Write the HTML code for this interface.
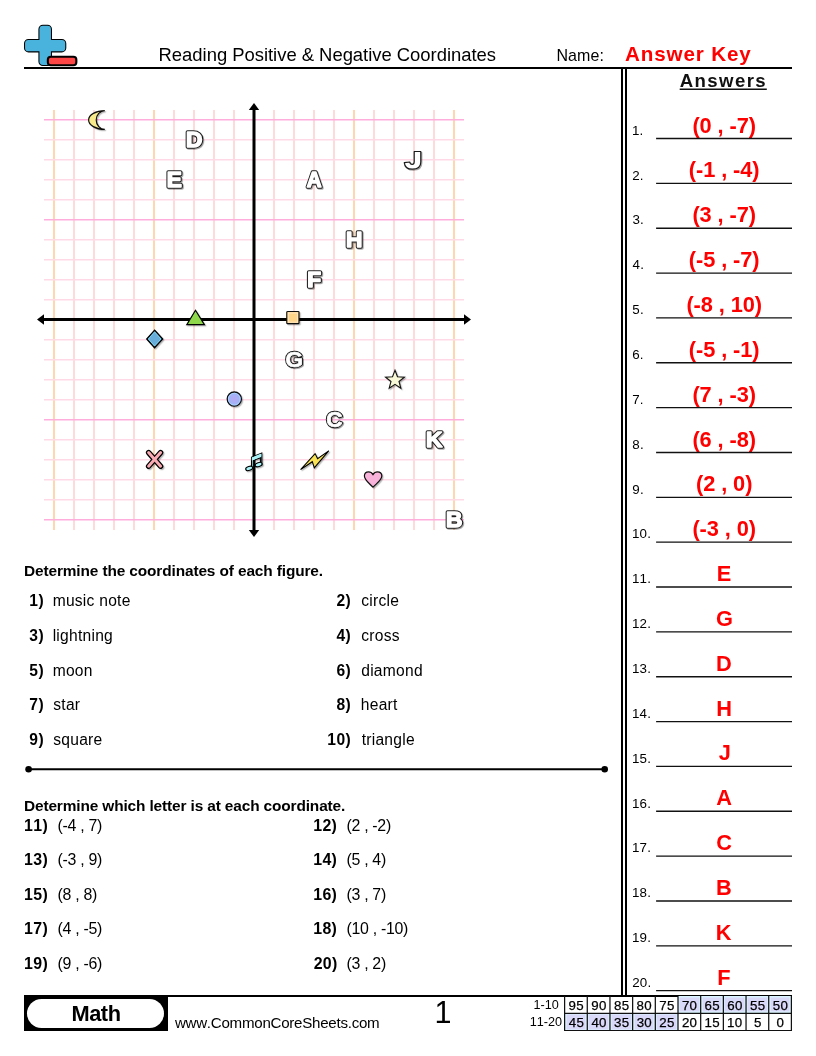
<!DOCTYPE html>
<html><head><meta charset="utf-8"><style>
html,body{margin:0;padding:0;background:#fff;}
body{width:816px;height:1056px;position:relative;overflow:hidden;font-family:"Liberation Sans", sans-serif;font-kerning:none;}
.abs{position:absolute;}
.t{position:absolute;white-space:pre;}
</style></head><body>
<div style="position:absolute;left:0;top:0;width:816px;height:1056px;will-change:transform;">
<svg class="abs" style="left:0;top:0" width="100" height="80" viewBox="0 0 100 80">
<g stroke="#000" stroke-width="2.1">
<rect x="39.45" y="25.85" width="11.5" height="39.1" rx="3.4" fill="#4ab3dd"/>
<rect x="25.05" y="40.05" width="40.2" height="11.3" rx="3.4" fill="#4ab3dd"/>
</g>
<rect x="39.45" y="25.85" width="11.5" height="39.1" rx="3.4" fill="#4ab3dd"/>
<rect x="25.05" y="40.05" width="40.2" height="11.3" rx="3.4" fill="#4ab3dd"/>
<rect x="47.85" y="56.75" width="28.5" height="8.5" rx="3" fill="#fe4646" stroke="#000" stroke-width="2.1"/>
</svg>
<div class="t" style="left:158.59px;top:46.07px;font-size:18.46px;line-height:18.46px;font-weight:normal;color:#000;letter-spacing:-0.02px;">Reading Positive &amp; Negative Coordinates</div>
<div class="t" style="left:556.39px;top:47.97px;font-size:15.99px;line-height:15.99px;font-weight:normal;color:#000;letter-spacing:0.10px;">Name:</div>
<div class="t" style="left:624.99px;top:44.23px;font-size:20.64px;line-height:20.64px;font-weight:bold;color:#fe0000;letter-spacing:0.85px;">Answer Key</div>
<div class="abs" style="left:24px;top:67px;width:768px;height:2px;background:#000;"></div>
<div class="abs" style="left:621px;top:69px;width:2px;height:926px;background:#000;"></div>
<div class="abs" style="left:624.8px;top:69px;width:1.9px;height:926px;background:#000;"></div>
<div class="t" style="left:679.64px;top:72.25px;font-size:18.60px;line-height:18.60px;font-weight:bold;color:#111;letter-spacing:1.43px;">Answers</div>
<svg class="abs" style="left:0;top:0" width="816" height="100"><line x1="679.7" y1="89.2" x2="766.8" y2="89.2" stroke="#111" stroke-width="1.4"/></svg>
<div class="t" style="left:631.88px;top:123.78px;font-size:13.37px;line-height:13.37px;font-weight:normal;color:#000;letter-spacing:0.20px;">1.</div>
<div class="t" style="left:692.42px;top:114.55px;font-size:21.80px;line-height:21.80px;font-weight:bold;color:#fe0000;letter-spacing:-0.09px;">(0 , -7)</div>
<div class="t" style="left:632.23px;top:168.63px;font-size:13.37px;line-height:13.37px;font-weight:normal;color:#000;letter-spacing:0.20px;">2.</div>
<div class="t" style="left:688.83px;top:159.40px;font-size:21.80px;line-height:21.80px;font-weight:bold;color:#fe0000;letter-spacing:-0.09px;">(-1 , -4)</div>
<div class="t" style="left:632.39px;top:213.48px;font-size:13.37px;line-height:13.37px;font-weight:normal;color:#000;letter-spacing:0.20px;">3.</div>
<div class="t" style="left:692.42px;top:204.25px;font-size:21.80px;line-height:21.80px;font-weight:bold;color:#fe0000;letter-spacing:-0.09px;">(3 , -7)</div>
<div class="t" style="left:632.59px;top:258.33px;font-size:13.37px;line-height:13.37px;font-weight:normal;color:#000;letter-spacing:0.20px;">4.</div>
<div class="t" style="left:688.83px;top:249.10px;font-size:21.80px;line-height:21.80px;font-weight:bold;color:#fe0000;letter-spacing:-0.09px;">(-5 , -7)</div>
<div class="t" style="left:632.36px;top:303.18px;font-size:13.37px;line-height:13.37px;font-weight:normal;color:#000;letter-spacing:0.20px;">5.</div>
<div class="t" style="left:686.40px;top:293.95px;font-size:21.80px;line-height:21.80px;font-weight:bold;color:#fe0000;letter-spacing:-0.09px;">(-8 , 10)</div>
<div class="t" style="left:632.22px;top:348.03px;font-size:13.37px;line-height:13.37px;font-weight:normal;color:#000;letter-spacing:0.20px;">6.</div>
<div class="t" style="left:688.83px;top:338.80px;font-size:21.80px;line-height:21.80px;font-weight:bold;color:#fe0000;letter-spacing:-0.09px;">(-5 , -1)</div>
<div class="t" style="left:632.21px;top:392.88px;font-size:13.37px;line-height:13.37px;font-weight:normal;color:#000;letter-spacing:0.20px;">7.</div>
<div class="t" style="left:692.42px;top:383.65px;font-size:21.80px;line-height:21.80px;font-weight:bold;color:#fe0000;letter-spacing:-0.09px;">(7 , -3)</div>
<div class="t" style="left:632.32px;top:437.73px;font-size:13.37px;line-height:13.37px;font-weight:normal;color:#000;letter-spacing:0.20px;">8.</div>
<div class="t" style="left:692.42px;top:428.50px;font-size:21.80px;line-height:21.80px;font-weight:bold;color:#fe0000;letter-spacing:-0.09px;">(6 , -8)</div>
<div class="t" style="left:632.27px;top:482.58px;font-size:13.37px;line-height:13.37px;font-weight:normal;color:#000;letter-spacing:0.20px;">9.</div>
<div class="t" style="left:696.00px;top:473.35px;font-size:21.80px;line-height:21.80px;font-weight:bold;color:#fe0000;letter-spacing:-0.09px;">(2 , 0)</div>
<div class="t" style="left:631.88px;top:527.43px;font-size:13.37px;line-height:13.37px;font-weight:normal;color:#000;letter-spacing:0.20px;">10.</div>
<div class="t" style="left:692.42px;top:518.20px;font-size:21.80px;line-height:21.80px;font-weight:bold;color:#fe0000;letter-spacing:-0.09px;">(-3 , 0)</div>
<div class="t" style="left:631.88px;top:572.28px;font-size:13.37px;line-height:13.37px;font-weight:normal;color:#000;letter-spacing:0.20px;">11.</div>
<div class="t" style="left:716.63px;top:563.05px;font-size:21.80px;line-height:21.80px;font-weight:bold;color:#fe0000;letter-spacing:-0.09px;">E</div>
<div class="t" style="left:631.88px;top:617.13px;font-size:13.37px;line-height:13.37px;font-weight:normal;color:#000;letter-spacing:0.20px;">12.</div>
<div class="t" style="left:715.95px;top:607.90px;font-size:21.80px;line-height:21.80px;font-weight:bold;color:#fe0000;letter-spacing:-0.09px;">G</div>
<div class="t" style="left:631.88px;top:661.98px;font-size:13.37px;line-height:13.37px;font-weight:normal;color:#000;letter-spacing:0.20px;">13.</div>
<div class="t" style="left:716.06px;top:652.75px;font-size:21.80px;line-height:21.80px;font-weight:bold;color:#fe0000;letter-spacing:-0.09px;">D</div>
<div class="t" style="left:631.88px;top:706.83px;font-size:13.37px;line-height:13.37px;font-weight:normal;color:#000;letter-spacing:0.20px;">14.</div>
<div class="t" style="left:716.33px;top:697.60px;font-size:21.80px;line-height:21.80px;font-weight:bold;color:#fe0000;letter-spacing:-0.09px;">H</div>
<div class="t" style="left:631.88px;top:751.68px;font-size:13.37px;line-height:13.37px;font-weight:normal;color:#000;letter-spacing:0.20px;">15.</div>
<div class="t" style="left:718.72px;top:742.45px;font-size:21.80px;line-height:21.80px;font-weight:bold;color:#fe0000;letter-spacing:-0.09px;">J</div>
<div class="t" style="left:631.88px;top:796.53px;font-size:13.37px;line-height:13.37px;font-weight:normal;color:#000;letter-spacing:0.20px;">16.</div>
<div class="t" style="left:716.34px;top:787.30px;font-size:21.80px;line-height:21.80px;font-weight:bold;color:#fe0000;letter-spacing:-0.09px;">A</div>
<div class="t" style="left:631.88px;top:841.38px;font-size:13.37px;line-height:13.37px;font-weight:normal;color:#000;letter-spacing:0.20px;">17.</div>
<div class="t" style="left:716.18px;top:832.15px;font-size:21.80px;line-height:21.80px;font-weight:bold;color:#fe0000;letter-spacing:-0.09px;">C</div>
<div class="t" style="left:631.88px;top:886.23px;font-size:13.37px;line-height:13.37px;font-weight:normal;color:#000;letter-spacing:0.20px;">18.</div>
<div class="t" style="left:716.09px;top:877.00px;font-size:21.80px;line-height:21.80px;font-weight:bold;color:#fe0000;letter-spacing:-0.09px;">B</div>
<div class="t" style="left:631.88px;top:931.08px;font-size:13.37px;line-height:13.37px;font-weight:normal;color:#000;letter-spacing:0.20px;">19.</div>
<div class="t" style="left:715.70px;top:921.85px;font-size:21.80px;line-height:21.80px;font-weight:bold;color:#fe0000;letter-spacing:-0.09px;">K</div>
<div class="t" style="left:632.23px;top:975.93px;font-size:13.37px;line-height:13.37px;font-weight:normal;color:#000;letter-spacing:0.20px;">20.</div>
<div class="t" style="left:717.21px;top:966.70px;font-size:21.80px;line-height:21.80px;font-weight:bold;color:#fe0000;letter-spacing:-0.09px;">F</div>
<svg class="abs" style="left:0;top:0" width="816" height="1000"><line x1="656.1" y1="138.50" x2="792" y2="138.50" stroke="#111" stroke-width="1.35"/><line x1="656.1" y1="183.35" x2="792" y2="183.35" stroke="#111" stroke-width="1.35"/><line x1="656.1" y1="228.20" x2="792" y2="228.20" stroke="#111" stroke-width="1.35"/><line x1="656.1" y1="273.05" x2="792" y2="273.05" stroke="#111" stroke-width="1.35"/><line x1="656.1" y1="317.90" x2="792" y2="317.90" stroke="#111" stroke-width="1.35"/><line x1="656.1" y1="362.75" x2="792" y2="362.75" stroke="#111" stroke-width="1.35"/><line x1="656.1" y1="407.60" x2="792" y2="407.60" stroke="#111" stroke-width="1.35"/><line x1="656.1" y1="452.45" x2="792" y2="452.45" stroke="#111" stroke-width="1.35"/><line x1="656.1" y1="497.30" x2="792" y2="497.30" stroke="#111" stroke-width="1.35"/><line x1="656.1" y1="542.15" x2="792" y2="542.15" stroke="#111" stroke-width="1.35"/><line x1="656.1" y1="587.00" x2="792" y2="587.00" stroke="#111" stroke-width="1.35"/><line x1="656.1" y1="631.85" x2="792" y2="631.85" stroke="#111" stroke-width="1.35"/><line x1="656.1" y1="676.70" x2="792" y2="676.70" stroke="#111" stroke-width="1.35"/><line x1="656.1" y1="721.55" x2="792" y2="721.55" stroke="#111" stroke-width="1.35"/><line x1="656.1" y1="766.40" x2="792" y2="766.40" stroke="#111" stroke-width="1.35"/><line x1="656.1" y1="811.25" x2="792" y2="811.25" stroke="#111" stroke-width="1.35"/><line x1="656.1" y1="856.10" x2="792" y2="856.10" stroke="#111" stroke-width="1.35"/><line x1="656.1" y1="900.95" x2="792" y2="900.95" stroke="#111" stroke-width="1.35"/><line x1="656.1" y1="945.80" x2="792" y2="945.80" stroke="#111" stroke-width="1.35"/><line x1="656.1" y1="990.65" x2="792" y2="990.65" stroke="#111" stroke-width="1.35"/></svg>
<svg class="abs" style="left:0;top:0" width="816" height="560" viewBox="0 0 816 560">
<defs><filter id="sh" x="-30%" y="-30%" width="160%" height="160%"><feDropShadow dx="1" dy="1" stdDeviation="0.5" flood-color="#000" flood-opacity="0.35"/></filter><radialGradient id="cg"><stop offset="0" stop-color="#b6a8f2"/><stop offset="0.55" stop-color="#a8b0f6"/><stop offset="1" stop-color="#98b4fa"/></radialGradient><filter id="sh2" x="-30%" y="-30%" width="160%" height="160%"><feDropShadow dx="1.2" dy="1.2" stdDeviation="0.5" flood-color="#000" flood-opacity="0.28"/></filter></defs>
<line x1="54" y1="110" x2="54" y2="530" stroke="#ffd6b0" stroke-width="2"/>
<line x1="74" y1="110" x2="74" y2="530" stroke="#ffdada" stroke-width="2"/>
<line x1="94" y1="110" x2="94" y2="530" stroke="#ffdada" stroke-width="2"/>
<line x1="114" y1="110" x2="114" y2="530" stroke="#ffdada" stroke-width="2"/>
<line x1="134" y1="110" x2="134" y2="530" stroke="#ffdada" stroke-width="2"/>
<line x1="154" y1="110" x2="154" y2="530" stroke="#ffd6b0" stroke-width="2"/>
<line x1="174" y1="110" x2="174" y2="530" stroke="#ffdada" stroke-width="2"/>
<line x1="194" y1="110" x2="194" y2="530" stroke="#ffdada" stroke-width="2"/>
<line x1="214" y1="110" x2="214" y2="530" stroke="#ffdada" stroke-width="2"/>
<line x1="234" y1="110" x2="234" y2="530" stroke="#ffdada" stroke-width="2"/>
<line x1="254" y1="110" x2="254" y2="530" stroke="#ffd6b0" stroke-width="2"/>
<line x1="274" y1="110" x2="274" y2="530" stroke="#ffdada" stroke-width="2"/>
<line x1="294" y1="110" x2="294" y2="530" stroke="#ffdada" stroke-width="2"/>
<line x1="314" y1="110" x2="314" y2="530" stroke="#ffdada" stroke-width="2"/>
<line x1="334" y1="110" x2="334" y2="530" stroke="#ffdada" stroke-width="2"/>
<line x1="354" y1="110" x2="354" y2="530" stroke="#ffd6b0" stroke-width="2"/>
<line x1="374" y1="110" x2="374" y2="530" stroke="#ffdada" stroke-width="2"/>
<line x1="394" y1="110" x2="394" y2="530" stroke="#ffdada" stroke-width="2"/>
<line x1="414" y1="110" x2="414" y2="530" stroke="#ffdada" stroke-width="2"/>
<line x1="434" y1="110" x2="434" y2="530" stroke="#ffdada" stroke-width="2"/>
<line x1="454" y1="110" x2="454" y2="530" stroke="#ffd6b0" stroke-width="2"/>
<line x1="44" y1="119.8" x2="464" y2="119.8" stroke="#ffaedb" stroke-width="1.6"/>
<line x1="44" y1="139.8" x2="464" y2="139.8" stroke="#ffd9e6" stroke-width="1.6"/>
<line x1="44" y1="159.8" x2="464" y2="159.8" stroke="#ffd9e6" stroke-width="1.6"/>
<line x1="44" y1="179.8" x2="464" y2="179.8" stroke="#ffd9e6" stroke-width="1.6"/>
<line x1="44" y1="199.8" x2="464" y2="199.8" stroke="#ffd9e6" stroke-width="1.6"/>
<line x1="44" y1="219.8" x2="464" y2="219.8" stroke="#ffaedb" stroke-width="1.6"/>
<line x1="44" y1="239.8" x2="464" y2="239.8" stroke="#ffd9e6" stroke-width="1.6"/>
<line x1="44" y1="259.8" x2="464" y2="259.8" stroke="#ffd9e6" stroke-width="1.6"/>
<line x1="44" y1="279.8" x2="464" y2="279.8" stroke="#ffd9e6" stroke-width="1.6"/>
<line x1="44" y1="299.8" x2="464" y2="299.8" stroke="#ffd9e6" stroke-width="1.6"/>
<line x1="44" y1="319.8" x2="464" y2="319.8" stroke="#ffaedb" stroke-width="1.6"/>
<line x1="44" y1="339.8" x2="464" y2="339.8" stroke="#ffd9e6" stroke-width="1.6"/>
<line x1="44" y1="359.8" x2="464" y2="359.8" stroke="#ffd9e6" stroke-width="1.6"/>
<line x1="44" y1="379.8" x2="464" y2="379.8" stroke="#ffd9e6" stroke-width="1.6"/>
<line x1="44" y1="399.8" x2="464" y2="399.8" stroke="#ffd9e6" stroke-width="1.6"/>
<line x1="44" y1="419.8" x2="464" y2="419.8" stroke="#ffaedb" stroke-width="1.6"/>
<line x1="44" y1="439.8" x2="464" y2="439.8" stroke="#ffd9e6" stroke-width="1.6"/>
<line x1="44" y1="459.8" x2="464" y2="459.8" stroke="#ffd9e6" stroke-width="1.6"/>
<line x1="44" y1="479.8" x2="464" y2="479.8" stroke="#ffd9e6" stroke-width="1.6"/>
<line x1="44" y1="499.8" x2="464" y2="499.8" stroke="#ffd9e6" stroke-width="1.6"/>
<line x1="44" y1="519.8" x2="464" y2="519.8" stroke="#ffaedb" stroke-width="1.6"/>
<line x1="254" y1="109" x2="254" y2="531" stroke="#000" stroke-width="3"/>
<line x1="43" y1="319.6" x2="465" y2="319.6" stroke="#000" stroke-width="3"/>
<polygon points="254,103 248.8,110 259.2,110" fill="#000"/>
<polygon points="254,537 248.8,530 259.2,530" fill="#000"/>
<polygon points="37,319.5 44,314.3 44,324.7" fill="#000"/>
<polygon points="471,319.5 464,314.3 464,324.7" fill="#000"/>
<g filter="url(#sh2)">
<path d="M104.8 110.6 A16.2 9.4 0 0 0 104.8 129.4 A8.6 9.4 0 0 1 104.8 110.6 Z" fill="#f9ea8c" stroke="#111" stroke-width="1.2" stroke-linejoin="miter"/>
<polygon points="154.6,330.2 162.6,339 154.6,347.6 146.8,339" fill="#68acd9" stroke="#000" stroke-width="1.4"/>
<polygon points="154.6,331.8 161,339 154.6,346 148.4,339" fill="none" stroke="#86e2f4" stroke-width="0.7"/>
<circle cx="234.3" cy="399.1" r="7.1" fill="url(#cg)" stroke="#111" stroke-width="1.3"/>
<circle cx="234.3" cy="399.1" r="5.9" fill="none" stroke="#acdcff" stroke-width="0.8"/>
<polygon points="195.5,310.3 186.8,324.6 204.4,324.6" fill="#8fd84c" stroke="#000" stroke-width="1.2" stroke-linejoin="miter"/>
<rect x="286.8" y="311.5" width="12.2" height="12.2" rx="0.8" fill="#ffd58a" stroke="#111" stroke-width="1.2"/>
<rect x="288.3" y="313" width="9.2" height="9.2" fill="none" stroke="#ffe6c4" stroke-width="0.9"/>
<g stroke-linecap="round"><line x1="148.6" y1="452.6" x2="160.6" y2="466.2" stroke="#000" stroke-width="5.4"/><line x1="160.6" y1="452.6" x2="148.6" y2="466.2" stroke="#000" stroke-width="5.4"/><line x1="148.6" y1="452.6" x2="160.6" y2="466.2" stroke="#f9aab2" stroke-width="3"/><line x1="160.6" y1="452.6" x2="148.6" y2="466.2" stroke="#f9aab2" stroke-width="3"/></g>
<polygon points="395.00,370.30 397.47,376.80 404.42,377.14 398.99,381.50 400.82,388.21 395.00,384.40 389.18,388.21 391.01,381.50 385.58,377.14 392.53,376.80" fill="#f9f8d6" stroke="#111" stroke-width="1.1" stroke-linejoin="miter"/>
<path d="M373 487.2 C369 483 364.4 480 364.4 476 C364.4 473.3 366.4 471.9 368.6 471.9 C370.8 471.9 372.2 473.2 373 474.6 C373.8 473.2 375.2 471.9 377.4 471.9 C379.6 471.9 381.8 473.3 381.8 476 C381.8 480 377 483 373 487.2 Z" fill="#f9b2da" stroke="#111" stroke-width="1.2"/>
<polygon points="300.6,469.6 315.1,453.6 317.6,458.7 328.7,450.9 314.3,467.9 312.3,461.7" fill="#f9e254" stroke="#000" stroke-width="1.1" stroke-linejoin="miter"/>
<g fill="#a9f3f8" stroke="#000" stroke-width="1.1"><path d="M251.5 457.2 L261.8 453 L261.8 465 L260.4 465 L260.4 457.8 L253.3 460.6 L253.3 468 L251.5 468 Z"/><ellipse cx="249.2" cy="468.4" rx="3.6" ry="2" transform="rotate(-18 249.2 468.4)"/><ellipse cx="258.6" cy="464.6" rx="3.6" ry="2" transform="rotate(-18 258.6 464.6)"/><path d="M251.8 457.6 L261.4 453.6 L261.4 456.6 L251.8 460.4 Z" stroke="none"/></g>
</g>
<path d="M414.2 151.5 L420.8 151.5 L420.8 162 C420.8 167 417.5 169.2 412.3 169.2 C407.5 169.2 404.6 166.5 404.3 162.6 L409.8 162 C410 163.6 410.9 164.4 412.2 164.4 C413.6 164.4 414.2 163.5 414.2 162 Z" fill="#fff" stroke="#1a1a1a" stroke-width="1.2" stroke-linejoin="round" filter="url(#sh)"/>
<g transform="translate(174.3 0) scale(1.07 1) translate(-174.3 0)"><text x="174.3" y="186.89" text-anchor="middle" font-family="Liberation Sans" font-weight="bold" font-size="21.2" fill="#1a1a1a" stroke="#1a1a1a" stroke-width="3.5" stroke-linejoin="round" filter="url(#sh)">E</text><text x="174.3" y="186.89" text-anchor="middle" font-family="Liberation Sans" font-weight="bold" font-size="21.2" fill="#fff" stroke="#fff" stroke-width="1.5" stroke-linejoin="round" opacity="0.999">E</text></g>
<g transform="translate(294.3 0) scale(1.0 1) translate(-294.3 0)"><text x="294.3" y="367.37" text-anchor="middle" font-family="Liberation Sans" font-weight="bold" font-size="22.6" fill="#1a1a1a" stroke="#1a1a1a" stroke-width="2.7" stroke-linejoin="round" filter="url(#sh)">G</text><text x="294.3" y="367.37" text-anchor="middle" font-family="Liberation Sans" font-weight="bold" font-size="22.6" fill="#fff" stroke="#fff" stroke-width="0.7" stroke-linejoin="round" opacity="0.999">G</text></g>
<g transform="translate(194.3 0) scale(1.07 1) translate(-194.3 0)"><text x="194.3" y="146.89" text-anchor="middle" font-family="Liberation Sans" font-weight="bold" font-size="21.2" fill="#1a1a1a" stroke="#1a1a1a" stroke-width="3.5" stroke-linejoin="round" filter="url(#sh)">D</text><text x="194.3" y="146.89" text-anchor="middle" font-family="Liberation Sans" font-weight="bold" font-size="21.2" fill="#fff" stroke="#fff" stroke-width="1.5" stroke-linejoin="round" opacity="0.999">D</text></g>
<g transform="translate(354.3 0) scale(1.07 1) translate(-354.3 0)"><text x="354.3" y="246.89" text-anchor="middle" font-family="Liberation Sans" font-weight="bold" font-size="21.2" fill="#1a1a1a" stroke="#1a1a1a" stroke-width="3.5" stroke-linejoin="round" filter="url(#sh)">H</text><text x="354.3" y="246.89" text-anchor="middle" font-family="Liberation Sans" font-weight="bold" font-size="21.2" fill="#fff" stroke="#fff" stroke-width="1.5" stroke-linejoin="round" opacity="0.999">H</text></g>
<g transform="translate(314.3 0) scale(0.97 1) translate(-314.3 0)"><text x="314.3" y="186.89" text-anchor="middle" font-family="Liberation Sans" font-weight="bold" font-size="21.2" fill="#1a1a1a" stroke="#1a1a1a" stroke-width="3.5" stroke-linejoin="round" filter="url(#sh)">A</text><text x="314.3" y="186.89" text-anchor="middle" font-family="Liberation Sans" font-weight="bold" font-size="21.2" fill="#fff" stroke="#fff" stroke-width="1.5" stroke-linejoin="round" opacity="0.999">A</text></g>
<g transform="translate(334.3 0) scale(1.0 1) translate(-334.3 0)"><text x="334.3" y="427.37" text-anchor="middle" font-family="Liberation Sans" font-weight="bold" font-size="22.6" fill="#1a1a1a" stroke="#1a1a1a" stroke-width="2.7" stroke-linejoin="round" filter="url(#sh)">C</text><text x="334.3" y="427.37" text-anchor="middle" font-family="Liberation Sans" font-weight="bold" font-size="22.6" fill="#fff" stroke="#fff" stroke-width="0.7" stroke-linejoin="round" opacity="0.999">C</text></g>
<g transform="translate(454.3 0) scale(1.07 1) translate(-454.3 0)"><text x="454.3" y="526.89" text-anchor="middle" font-family="Liberation Sans" font-weight="bold" font-size="21.2" fill="#1a1a1a" stroke="#1a1a1a" stroke-width="3.5" stroke-linejoin="round" filter="url(#sh)">B</text><text x="454.3" y="526.89" text-anchor="middle" font-family="Liberation Sans" font-weight="bold" font-size="21.2" fill="#fff" stroke="#fff" stroke-width="1.5" stroke-linejoin="round" opacity="0.999">B</text></g>
<g transform="translate(434.3 0) scale(1.07 1) translate(-434.3 0)"><text x="434.3" y="446.89" text-anchor="middle" font-family="Liberation Sans" font-weight="bold" font-size="21.2" fill="#1a1a1a" stroke="#1a1a1a" stroke-width="3.5" stroke-linejoin="round" filter="url(#sh)">K</text><text x="434.3" y="446.89" text-anchor="middle" font-family="Liberation Sans" font-weight="bold" font-size="21.2" fill="#fff" stroke="#fff" stroke-width="1.5" stroke-linejoin="round" opacity="0.999">K</text></g>
<g transform="translate(314.3 0) scale(1.07 1) translate(-314.3 0)"><text x="314.3" y="286.89" text-anchor="middle" font-family="Liberation Sans" font-weight="bold" font-size="21.2" fill="#1a1a1a" stroke="#1a1a1a" stroke-width="3.5" stroke-linejoin="round" filter="url(#sh)">F</text><text x="314.3" y="286.89" text-anchor="middle" font-family="Liberation Sans" font-weight="bold" font-size="21.2" fill="#fff" stroke="#fff" stroke-width="1.5" stroke-linejoin="round" opacity="0.999">F</text></g>
</svg>
<div class="t" style="left:23.97px;top:562.76px;font-size:15.41px;line-height:15.41px;font-weight:bold;color:#000;letter-spacing:-0.12px;">Determine the coordinates of each figure.</div>
<div class="t" style="left:29.21px;top:592.99px;font-size:15.60px;line-height:15.60px;font-weight:bold;color:#000;letter-spacing:0.50px;">1)</div>
<div class="t" style="left:52.66px;top:592.99px;font-size:15.60px;line-height:15.60px;font-weight:normal;color:#000;letter-spacing:0.25px;">music note</div>
<div class="t" style="left:29.21px;top:627.79px;font-size:15.60px;line-height:15.60px;font-weight:bold;color:#000;letter-spacing:0.50px;">3)</div>
<div class="t" style="left:52.65px;top:627.79px;font-size:15.60px;line-height:15.60px;font-weight:normal;color:#000;letter-spacing:0.25px;">lightning</div>
<div class="t" style="left:29.21px;top:662.59px;font-size:15.60px;line-height:15.60px;font-weight:bold;color:#000;letter-spacing:0.50px;">5)</div>
<div class="t" style="left:52.66px;top:662.59px;font-size:15.60px;line-height:15.60px;font-weight:normal;color:#000;letter-spacing:0.25px;">moon</div>
<div class="t" style="left:29.21px;top:697.39px;font-size:15.60px;line-height:15.60px;font-weight:bold;color:#000;letter-spacing:0.50px;">7)</div>
<div class="t" style="left:53.27px;top:697.39px;font-size:15.60px;line-height:15.60px;font-weight:normal;color:#000;letter-spacing:0.25px;">star</div>
<div class="t" style="left:29.21px;top:732.19px;font-size:15.60px;line-height:15.60px;font-weight:bold;color:#000;letter-spacing:0.50px;">9)</div>
<div class="t" style="left:53.27px;top:732.19px;font-size:15.60px;line-height:15.60px;font-weight:normal;color:#000;letter-spacing:0.25px;">square</div>
<div class="t" style="left:336.41px;top:592.99px;font-size:15.60px;line-height:15.60px;font-weight:bold;color:#000;letter-spacing:0.50px;">2)</div>
<div class="t" style="left:361.24px;top:592.99px;font-size:15.60px;line-height:15.60px;font-weight:normal;color:#000;letter-spacing:0.25px;">circle</div>
<div class="t" style="left:336.41px;top:627.79px;font-size:15.60px;line-height:15.60px;font-weight:bold;color:#000;letter-spacing:0.50px;">4)</div>
<div class="t" style="left:361.24px;top:627.79px;font-size:15.60px;line-height:15.60px;font-weight:normal;color:#000;letter-spacing:0.25px;">cross</div>
<div class="t" style="left:336.41px;top:662.59px;font-size:15.60px;line-height:15.60px;font-weight:bold;color:#000;letter-spacing:0.50px;">6)</div>
<div class="t" style="left:361.24px;top:662.59px;font-size:15.60px;line-height:15.60px;font-weight:normal;color:#000;letter-spacing:0.25px;">diamond</div>
<div class="t" style="left:336.41px;top:697.39px;font-size:15.60px;line-height:15.60px;font-weight:bold;color:#000;letter-spacing:0.50px;">8)</div>
<div class="t" style="left:360.82px;top:697.39px;font-size:15.60px;line-height:15.60px;font-weight:normal;color:#000;letter-spacing:0.25px;">heart</div>
<div class="t" style="left:327.23px;top:732.19px;font-size:15.60px;line-height:15.60px;font-weight:bold;color:#000;letter-spacing:0.50px;">10)</div>
<div class="t" style="left:361.66px;top:732.19px;font-size:15.60px;line-height:15.60px;font-weight:normal;color:#000;letter-spacing:0.25px;">triangle</div>
<svg class="abs" style="left:0;top:760px" width="640" height="20"><line x1="28.6" y1="9.3" x2="604.7" y2="9.3" stroke="#000" stroke-width="2"/><circle cx="28.6" cy="9.3" r="3.3"/><circle cx="604.7" cy="9.3" r="3.3"/></svg>
<div class="t" style="left:23.97px;top:797.56px;font-size:15.41px;line-height:15.41px;font-weight:bold;color:#000;letter-spacing:-0.13px;">Determine which letter is at each coordinate.</div>
<div class="t" style="left:24.00px;top:817.54px;font-size:15.90px;line-height:15.90px;font-weight:bold;color:#000;letter-spacing:0.35px;">11)</div>
<div class="t" style="left:57.61px;top:817.54px;font-size:15.90px;line-height:15.90px;font-weight:normal;color:#000;letter-spacing:-0.30px;">(-4 , 7)</div>
<div class="t" style="left:24.00px;top:852.14px;font-size:15.90px;line-height:15.90px;font-weight:bold;color:#000;letter-spacing:0.35px;">13)</div>
<div class="t" style="left:57.61px;top:852.14px;font-size:15.90px;line-height:15.90px;font-weight:normal;color:#000;letter-spacing:-0.30px;">(-3 , 9)</div>
<div class="t" style="left:24.00px;top:886.74px;font-size:15.90px;line-height:15.90px;font-weight:bold;color:#000;letter-spacing:0.35px;">15)</div>
<div class="t" style="left:57.61px;top:886.74px;font-size:15.90px;line-height:15.90px;font-weight:normal;color:#000;letter-spacing:-0.30px;">(8 , 8)</div>
<div class="t" style="left:24.00px;top:921.34px;font-size:15.90px;line-height:15.90px;font-weight:bold;color:#000;letter-spacing:0.35px;">17)</div>
<div class="t" style="left:57.61px;top:921.34px;font-size:15.90px;line-height:15.90px;font-weight:normal;color:#000;letter-spacing:-0.30px;">(4 , -5)</div>
<div class="t" style="left:24.00px;top:955.94px;font-size:15.90px;line-height:15.90px;font-weight:bold;color:#000;letter-spacing:0.35px;">19)</div>
<div class="t" style="left:57.61px;top:955.94px;font-size:15.90px;line-height:15.90px;font-weight:normal;color:#000;letter-spacing:-0.30px;">(9 , -6)</div>
<div class="t" style="left:313.20px;top:817.54px;font-size:15.90px;line-height:15.90px;font-weight:bold;color:#000;letter-spacing:0.35px;">12)</div>
<div class="t" style="left:346.51px;top:817.54px;font-size:15.90px;line-height:15.90px;font-weight:normal;color:#000;letter-spacing:-0.30px;">(2 , -2)</div>
<div class="t" style="left:313.20px;top:852.14px;font-size:15.90px;line-height:15.90px;font-weight:bold;color:#000;letter-spacing:0.35px;">14)</div>
<div class="t" style="left:346.51px;top:852.14px;font-size:15.90px;line-height:15.90px;font-weight:normal;color:#000;letter-spacing:-0.30px;">(5 , 4)</div>
<div class="t" style="left:313.20px;top:886.74px;font-size:15.90px;line-height:15.90px;font-weight:bold;color:#000;letter-spacing:0.35px;">16)</div>
<div class="t" style="left:346.51px;top:886.74px;font-size:15.90px;line-height:15.90px;font-weight:normal;color:#000;letter-spacing:-0.30px;">(3 , 7)</div>
<div class="t" style="left:313.20px;top:921.34px;font-size:15.90px;line-height:15.90px;font-weight:bold;color:#000;letter-spacing:0.35px;">18)</div>
<div class="t" style="left:346.51px;top:921.34px;font-size:15.90px;line-height:15.90px;font-weight:normal;color:#000;letter-spacing:-0.30px;">(10 , -10)</div>
<div class="t" style="left:313.65px;top:955.94px;font-size:15.90px;line-height:15.90px;font-weight:bold;color:#000;letter-spacing:0.35px;">20)</div>
<div class="t" style="left:346.51px;top:955.94px;font-size:15.90px;line-height:15.90px;font-weight:normal;color:#000;letter-spacing:-0.30px;">(3 , 2)</div>
<div class="abs" style="left:24px;top:995px;width:768px;height:2px;background:#000;"></div>
<div class="abs" style="left:24.3px;top:995px;width:144px;height:36px;background:#000;"></div>
<div class="abs" style="left:27.3px;top:999px;width:136.7px;height:29.4px;background:#fff;border-radius:15px;"></div>
<div class="t" style="left:71.44px;top:1002.54px;font-size:21.80px;line-height:21.80px;font-weight:bold;color:#000;letter-spacing:-0.45px;">Math</div>
<div class="t" style="left:174.92px;top:1015.00px;font-size:15.12px;line-height:15.12px;font-weight:normal;color:#000;letter-spacing:-0.26px;">www.CommonCoreSheets.com</div>
<div class="t" style="left:434.47px;top:997.06px;font-size:30.52px;line-height:30.52px;font-weight:normal;color:#000;letter-spacing:0.00px;">1</div>
<div class="t" style="left:533.43px;top:998.69px;font-size:12.65px;line-height:12.65px;font-weight:normal;color:#000;letter-spacing:0.05px;">1-10</div>
<div class="t" style="left:529.84px;top:1015.69px;font-size:12.65px;line-height:12.65px;font-weight:normal;color:#000;letter-spacing:-0.05px;">11-20</div>
<div class="t" style="left:568.56px;top:998.64px;font-size:13.30px;line-height:13.30px;font-weight:normal;color:#000;letter-spacing:0.30px;-webkit-text-stroke:0.25px #000;">95</div>
<div class="abs" style="left:564.6px;top:1013.25px;width:22.68px;height:17.25px;background:#d9d8f8;box-shadow:inset 0 0 0 1.6px #daf4ff;"></div>
<div class="t" style="left:568.72px;top:1015.64px;font-size:13.30px;line-height:13.30px;font-weight:normal;color:#000;letter-spacing:0.30px;-webkit-text-stroke:0.25px #000;">45</div>
<div class="t" style="left:591.22px;top:998.64px;font-size:13.30px;line-height:13.30px;font-weight:normal;color:#000;letter-spacing:0.30px;-webkit-text-stroke:0.25px #000;">90</div>
<div class="abs" style="left:587.28px;top:1013.25px;width:22.68px;height:17.25px;background:#d9d8f8;box-shadow:inset 0 0 0 1.6px #daf4ff;"></div>
<div class="t" style="left:591.38px;top:1015.64px;font-size:13.30px;line-height:13.30px;font-weight:normal;color:#000;letter-spacing:0.30px;-webkit-text-stroke:0.25px #000;">40</div>
<div class="t" style="left:613.94px;top:998.64px;font-size:13.30px;line-height:13.30px;font-weight:normal;color:#000;letter-spacing:0.30px;-webkit-text-stroke:0.25px #000;">85</div>
<div class="abs" style="left:609.96px;top:1013.25px;width:22.68px;height:17.25px;background:#d9d8f8;box-shadow:inset 0 0 0 1.6px #daf4ff;"></div>
<div class="t" style="left:613.98px;top:1015.64px;font-size:13.30px;line-height:13.30px;font-weight:normal;color:#000;letter-spacing:0.30px;-webkit-text-stroke:0.25px #000;">35</div>
<div class="t" style="left:636.60px;top:998.64px;font-size:13.30px;line-height:13.30px;font-weight:normal;color:#000;letter-spacing:0.30px;-webkit-text-stroke:0.25px #000;">80</div>
<div class="abs" style="left:632.64px;top:1013.25px;width:22.68px;height:17.25px;background:#d9d8f8;box-shadow:inset 0 0 0 1.6px #daf4ff;"></div>
<div class="t" style="left:636.64px;top:1015.64px;font-size:13.30px;line-height:13.30px;font-weight:normal;color:#000;letter-spacing:0.30px;-webkit-text-stroke:0.25px #000;">30</div>
<div class="t" style="left:659.25px;top:998.64px;font-size:13.30px;line-height:13.30px;font-weight:normal;color:#000;letter-spacing:0.30px;-webkit-text-stroke:0.25px #000;">75</div>
<div class="abs" style="left:655.32px;top:1013.25px;width:22.68px;height:17.25px;background:#d9d8f8;box-shadow:inset 0 0 0 1.6px #daf4ff;"></div>
<div class="t" style="left:659.26px;top:1015.64px;font-size:13.30px;line-height:13.30px;font-weight:normal;color:#000;letter-spacing:0.30px;-webkit-text-stroke:0.25px #000;">25</div>
<div class="abs" style="left:678.0px;top:996.0px;width:22.68px;height:17.25px;background:#d9d8f8;box-shadow:inset 0 0 0 1.6px #daf4ff;"></div>
<div class="t" style="left:681.91px;top:998.64px;font-size:13.30px;line-height:13.30px;font-weight:normal;color:#000;letter-spacing:0.30px;-webkit-text-stroke:0.25px #000;">70</div>
<div class="t" style="left:681.92px;top:1015.64px;font-size:13.30px;line-height:13.30px;font-weight:normal;color:#000;letter-spacing:0.30px;-webkit-text-stroke:0.25px #000;">20</div>
<div class="abs" style="left:700.68px;top:996.0px;width:22.68px;height:17.25px;background:#d9d8f8;box-shadow:inset 0 0 0 1.6px #daf4ff;"></div>
<div class="t" style="left:704.61px;top:998.64px;font-size:13.30px;line-height:13.30px;font-weight:normal;color:#000;letter-spacing:0.30px;-webkit-text-stroke:0.25px #000;">65</div>
<div class="t" style="left:704.45px;top:1015.64px;font-size:13.30px;line-height:13.30px;font-weight:normal;color:#000;letter-spacing:0.30px;-webkit-text-stroke:0.25px #000;">15</div>
<div class="abs" style="left:723.36px;top:996.0px;width:22.68px;height:17.25px;background:#d9d8f8;box-shadow:inset 0 0 0 1.6px #daf4ff;"></div>
<div class="t" style="left:727.28px;top:998.64px;font-size:13.30px;line-height:13.30px;font-weight:normal;color:#000;letter-spacing:0.30px;-webkit-text-stroke:0.25px #000;">60</div>
<div class="t" style="left:727.11px;top:1015.64px;font-size:13.30px;line-height:13.30px;font-weight:normal;color:#000;letter-spacing:0.30px;-webkit-text-stroke:0.25px #000;">10</div>
<div class="abs" style="left:746.04px;top:996.0px;width:22.68px;height:17.25px;background:#d9d8f8;box-shadow:inset 0 0 0 1.6px #daf4ff;"></div>
<div class="t" style="left:750.05px;top:998.64px;font-size:13.30px;line-height:13.30px;font-weight:normal;color:#000;letter-spacing:0.30px;-webkit-text-stroke:0.25px #000;">55</div>
<div class="t" style="left:753.89px;top:1015.64px;font-size:13.30px;line-height:13.30px;font-weight:normal;color:#000;letter-spacing:0.30px;-webkit-text-stroke:0.25px #000;">5</div>
<div class="abs" style="left:768.72px;top:996.0px;width:22.68px;height:17.25px;background:#d9d8f8;box-shadow:inset 0 0 0 1.6px #daf4ff;"></div>
<div class="t" style="left:772.71px;top:998.64px;font-size:13.30px;line-height:13.30px;font-weight:normal;color:#000;letter-spacing:0.30px;-webkit-text-stroke:0.25px #000;">50</div>
<div class="t" style="left:776.56px;top:1015.64px;font-size:13.30px;line-height:13.30px;font-weight:normal;color:#000;letter-spacing:0.30px;-webkit-text-stroke:0.25px #000;">0</div>
<svg class="abs" style="left:0;top:0" width="816" height="1056"><line x1="564.60" y1="996" x2="564.60" y2="1031" stroke="#111" stroke-width="1.25"/><line x1="587.28" y1="996" x2="587.28" y2="1031" stroke="#111" stroke-width="1.25"/><line x1="609.96" y1="996" x2="609.96" y2="1031" stroke="#111" stroke-width="1.25"/><line x1="632.64" y1="996" x2="632.64" y2="1031" stroke="#111" stroke-width="1.25"/><line x1="655.32" y1="996" x2="655.32" y2="1031" stroke="#111" stroke-width="1.25"/><line x1="678.00" y1="996" x2="678.00" y2="1031" stroke="#111" stroke-width="1.25"/><line x1="700.68" y1="996" x2="700.68" y2="1031" stroke="#111" stroke-width="1.25"/><line x1="723.36" y1="996" x2="723.36" y2="1031" stroke="#111" stroke-width="1.25"/><line x1="746.04" y1="996" x2="746.04" y2="1031" stroke="#111" stroke-width="1.25"/><line x1="768.72" y1="996" x2="768.72" y2="1031" stroke="#111" stroke-width="1.25"/><line x1="791.40" y1="996" x2="791.40" y2="1031" stroke="#111" stroke-width="1.25"/><line x1="564.00" y1="1013.3" x2="792.00" y2="1013.3" stroke="#111" stroke-width="1.2"/><line x1="564.00" y1="1030.5" x2="792.00" y2="1030.5" stroke="#111" stroke-width="1.2"/></svg>

</div>
</body></html>
